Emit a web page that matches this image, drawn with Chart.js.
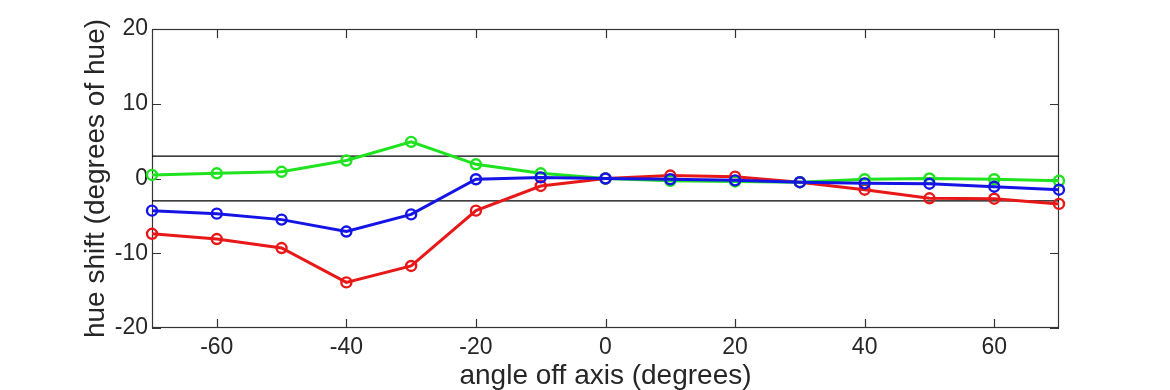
<!DOCTYPE html>
<html>
<head>
<meta charset="utf-8">
<script src="https://cdn.jsdelivr.net/npm/chart.js@4/dist/chart.umd.min.js"></script>
<style>
html,body{margin:0;padding:0;background:#fff;}
#wrap{width:1170px;height:390px;position:relative;}
</style>
</head>
<body>
<div id="wrap"><canvas id="c" width="1170" height="390"></canvas></div>
<script>
const angles = [-70,-60,-50,-40,-30,-20,-10,0,10,20,30,40,50,60,70];
const greenShift = [0.47,0.7,0.9,2.4,4.9,1.9,0.7,0,-0.3,-0.4,-0.5,-0.1,0.0,-0.1,-0.3];
const blueShift  = [-4.3,-4.7,-5.5,-7.1,-4.8,-0.1,0.15,0,-0.1,-0.25,-0.5,-0.65,-0.7,-1.1,-1.5];
const redShift   = [-7.4,-8.1,-9.3,-13.9,-11.7,-4.3,-1.0,0,0.4,0.25,-0.5,-1.5,-2.65,-2.7,-3.4];
const limitLines = [3,-3];
const xTicks = [-60,-40,-20,0,20,40,60];
const yTicks = [-20,-10,0,10,20];
const xRange = [-70,70];
const yRange = [-20,20];

const FONT = '"Liberation Sans", Arial, Helvetica, sans-serif';
const TXT = '#262626';

function series(vals){ return angles.map((a,i)=>({x:a,y:vals[i]})); }
function lineDs(vals,color,order){
  return {data:series(vals),borderColor:color,backgroundColor:'rgba(0,0,0,0)',
    borderWidth:3,pointRadius:5,pointBorderWidth:2.4,pointBorderColor:color,
    pointBackgroundColor:'rgba(0,0,0,0)',tension:0,clip:false,order:order};
}
const limitSets = limitLines.map(v=>({data:[{x:xRange[0],y:v},{x:xRange[1],y:v}],
  borderColor:'#000',borderWidth:1.2,pointRadius:0,order:5,tension:0}));

const boxPlugin = {
  id:'box',
  beforeDatasetsDraw(chart){
    const {ctx,chartArea:a,scales:{x,y}} = chart;
    ctx.save();
    ctx.strokeStyle='#333';
    ctx.lineWidth=1.2;
    ctx.strokeRect(Math.round(a.left)+0.5,Math.round(a.top)+0.5,Math.round(a.right-a.left)-1,Math.round(a.bottom-a.top)-1);
    const L=9;
    ctx.beginPath();
    xTicks.forEach(v=>{
      const px=Math.round(x.getPixelForValue(v))+0.5;
      ctx.moveTo(px,a.bottom); ctx.lineTo(px,a.bottom-L);
      ctx.moveTo(px,a.top); ctx.lineTo(px,a.top+L);
    });
    yTicks.forEach(v=>{
      const py=Math.round(y.getPixelForValue(v))+0.5;
      ctx.moveTo(a.left,py); ctx.lineTo(a.left+L,py);
      ctx.moveTo(a.right,py); ctx.lineTo(a.right-L,py);
    });
    ctx.stroke();
    ctx.restore();
  }
};

new Chart(document.getElementById('c'),{
  type:'line',
  data:{datasets:[lineDs(blueShift,'#1414e6',0),lineDs(greenShift,'#1ee31e',1),lineDs(redShift,'#e81818',2),...limitSets]},
  options:{
    responsive:false,animation:false,
    layout:{padding:{left:0,right:111,top:29,bottom:0}},
    plugins:{legend:{display:false},tooltip:{enabled:false}},
    scales:{
      x:{type:'linear',min:xRange[0],max:xRange[1],
        afterBuildTicks:s=>{s.ticks=xTicks.map(v=>({value:v}));},
        afterFit:s=>{s.height=62;},
        grid:{display:false,drawTicks:false},border:{display:false},
        ticks:{padding:6,color:TXT,font:{family:FONT,size:23},maxRotation:0},
        title:{display:true,text:'angle off axis (degrees)',color:TXT,font:{family:FONT,size:28},padding:{top:0,bottom:-3}}
      },
      y:{type:'linear',min:yRange[0],max:yRange[1],
        afterBuildTicks:s=>{s.ticks=yTicks.map(v=>({value:v}));},
        afterFit:s=>{s.width=152;},
        grid:{display:false,drawTicks:false},border:{display:false},
        ticks:{padding:4,color:TXT,font:{family:FONT,size:23}},
        title:{display:true,text:'hue shift (degrees of hue)',color:TXT,font:{family:FONT,size:28},padding:{top:79,bottom:0}}
      }
    }
  },
  plugins:[boxPlugin]
});
</script>
</body>
</html>
